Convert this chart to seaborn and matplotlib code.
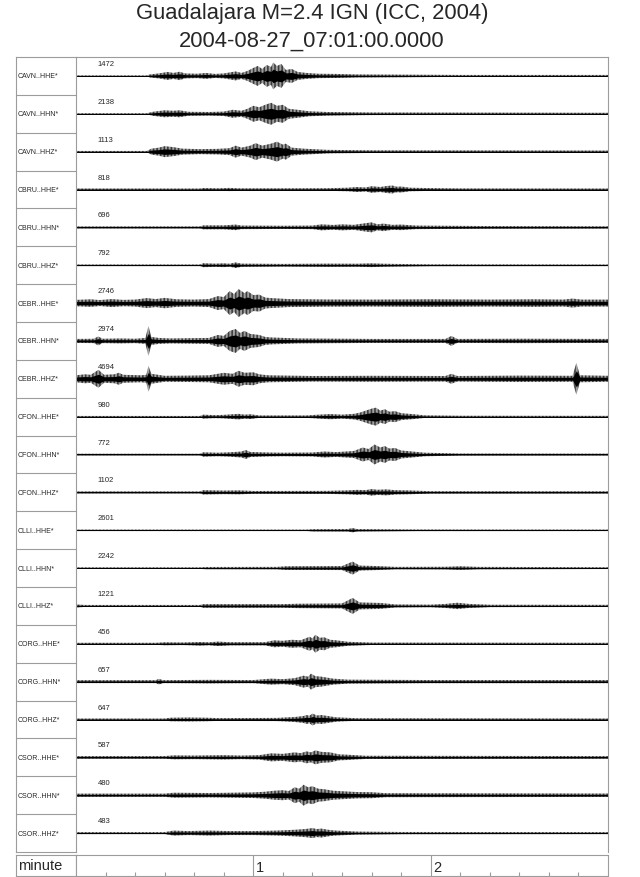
import numpy as np
import matplotlib
matplotlib.use("Agg")
import matplotlib.pyplot as plt
import seaborn as sns

# trace names and the max counts printed above each trace
labels = [
    "CAVN..HHE*", "CAVN..HHN*", "CAVN..HHZ*",
    "CBRU..HHE*", "CBRU..HHN*", "CBRU..HHZ*",
    "CEBR..HHE*", "CEBR..HHN*", "CEBR..HHZ*",
    "CFON..HHE*", "CFON..HHN*", "CFON..HHZ*",
    "CLLI..HHE*", "CLLI..HHN*", "CLLI..HHZ*",
    "CORG..HHE*", "CORG..HHN*", "CORG..HHZ*",
    "CSOR..HHE*", "CSOR..HHN*", "CSOR..HHZ*",
]
max_counts = [1472, 2138, 1113, 818, 696, 792, 2746, 2974, 4694, 980, 772,
              1102, 2601, 2242, 1221, 456, 657, 647, 587, 480, 483]

# envelope of each trace: (seconds, half amplitude in px)
env_cavn_hhe = [(0, 0.6), (24, 0.6), (25, 1.5), (28, 2.5), (31, 4), (33, 3), (35, 4.2), (37, 2.5),
                (41, 2.2), (44, 3), (47, 2), (50, 2.5), (52, 3.5), (54, 4.5), (56, 3), (58, 5),
                (60, 8), (61.5, 10), (63, 7), (64.5, 11), (66, 9), (66.7, 13.5), (68, 10),
                (69.5, 12), (71, 6), (73, 7), (75, 4), (78, 3), (82, 2.2), (88, 2), (95, 1.5),
                (110, 1.3), (130, 1), (180, 1)]
env_cavn_hhn = [(0, 0.6), (24, 0.6), (26, 2), (30, 3.5), (33, 3), (35, 3.5), (38, 2), (45, 1.8),
                (50, 2.2), (53, 4), (56, 3), (58, 5), (60, 8), (62, 6.5), (64, 9), (66, 11),
                (68, 8), (70, 9), (72, 5), (75, 4), (79, 2.5), (85, 1.8), (100, 1.3), (180, 1)]
env_cavn_hhz = [(0, 0.7), (24, 0.7), (25.5, 3), (28, 4), (30, 5.5), (33, 4.5), (36, 3), (42, 2.5),
                (48, 2.8), (52, 3.5), (54, 6), (56, 4), (59, 6), (60.8, 8.5), (63, 6), (66, 8),
                (68, 10), (70, 7), (71, 8), (73, 4), (77, 3), (85, 1.8), (100, 1.3), (180, 1.1)]
env_cbru_hhe = [(0, 1.0), (42, 1.0), (43, 1.5), (48, 1.2), (52, 1.6), (55, 1.2), (68, 1.2),
                (85, 1.3), (92, 1.8), (95, 2.5), (98, 2), (100, 3.3), (103, 2.5), (105, 3.5),
                (107, 4), (108.5, 2.8), (110, 3), (113, 1.8), (118, 1.5), (130, 1.1), (180, 1.0)]
env_cbru_hhn = [(0, 1.0), (42, 1.0), (43, 2), (50, 2), (54, 2.8), (56, 1.8), (70, 1.6), (80, 1.8),
                (83, 3), (87, 2.4), (90, 3), (94, 2.5), (97, 3.8), (100, 5), (102, 3), (104, 3.8),
                (107, 2.5), (110, 2.8), (115, 1.8), (125, 1.6), (140, 1.3), (180, 1.1)]
env_cbru_hhz = [(0, 0.8), (42, 0.8), (43, 2), (47, 1.6), (50, 1.9), (52, 1.5), (54, 2.8), (56, 1.6),
                (70, 1.3), (85, 1.6), (95, 1.5), (100, 1.9), (104, 1.5), (108, 1.3), (120, 0.9),
                (180, 0.8)]
env_cebr_hhe = [(0, 3.2), (5, 3.8), (8, 3), (12, 4), (16, 3.2), (20, 3.5), (24, 5), (27, 4),
                (30, 5.2), (34, 3.8), (40, 3.5), (45, 4), (48, 7), (50, 6), (52, 12), (53.5, 9),
                (55, 14), (57, 10), (58, 12), (60, 8), (62, 8.5), (64, 5.5), (66, 5), (72, 4),
                (85, 3.6), (100, 3.5), (120, 3.8), (140, 3.5), (155, 3.8), (165, 3.5), (168, 4.5),
                (171, 3.5), (180, 3.5)]
env_cebr_hhn = [(0, 2), (6, 2.2), (7.5, 4.5), (9, 2.2), (15, 2.5), (20, 2.2), (23.5, 3), (24.5, 15),
                (25.5, 4), (28, 3), (32, 2.5), (40, 2.8), (45, 3), (48, 6), (50, 5), (52, 10),
                (54, 12), (55.5, 8), (57, 10), (59, 7), (62, 6), (64, 4), (66, 3.5), (75, 2.5),
                (100, 2), (125, 2), (127, 5), (129, 2), (150, 2.2), (180, 2)]
env_cebr_hhz = [(0, 3.5), (3, 4.5), (5, 4), (7.6, 9), (9.5, 4), (13, 4.5), (14.5, 6), (16, 4),
                (22, 3.5), (23.8, 4), (24.5, 13), (25.5, 5), (30, 3), (38, 3.2), (45, 3.5), (48, 5),
                (50, 6), (53, 5), (55, 8), (57, 6), (60, 6.5), (62, 4.5), (65, 3.5), (80, 2.8),
                (100, 3), (125, 2.8), (127, 5), (129, 2.8), (150, 3.2), (168, 3), (169.3, 16),
                (170.5, 3.5), (180, 3)]
env_cfon_hhe = [(0, 0.7), (42, 0.7), (43, 2), (47, 1.5), (50, 1.8), (55, 2.8), (57, 2), (59, 2.4),
                (62, 1.2), (78, 1.2), (82, 2), (86, 2.6), (90, 2), (94, 2.8), (96, 4), (98, 6),
                (100, 8), (101.5, 9), (103, 6), (104.5, 7.5), (106, 5), (108, 5.5), (110, 3.5),
                (114, 2.5), (118, 1.3), (130, 0.9), (180, 0.8)]
env_cfon_hhn = [(0, 0.8), (42, 0.8), (43, 2.2), (48, 1.8), (52, 2.2), (56, 3), (57.5, 4.5), (59, 2.5),
                (65, 2), (70, 1.8), (80, 2), (84, 3), (88, 2.4), (94, 3.5), (97, 7), (99, 5.5),
                (101, 10), (103, 7), (104.5, 8.5), (106, 6), (108, 6.5), (110, 4), (112, 3.5),
                (118, 1.8), (130, 1), (180, 0.9)]
env_cfon_hhz = [(0, 1), (42, 1), (43, 2.2), (50, 1.8), (55, 2), (60, 1.4), (85, 1.5), (92, 2),
                (95, 2.5), (98, 2.2), (100, 3.3), (102, 2.6), (105, 3), (108, 2.2), (112, 2),
                (120, 1.2), (180, 1.1)]
env_clli_hhe = [(0, 0.7), (78, 0.7), (80, 1.1), (92, 1.2), (93.6, 2.2), (95, 1.2), (105, 1),
                (115, 0.8), (180, 0.7)]
env_clli_hhn = [(0, 0.8), (42, 0.8), (44, 1.1), (68, 1.2), (71, 1.8), (90, 2), (93.6, 6.5),
                (96, 2.5), (102, 2), (108, 1.2), (125, 1.3), (130, 1.8), (136, 1.2), (180, 0.9)]
env_clli_hhz = [(0, 1.5), (3, 1), (42, 1), (43, 1.8), (70, 1.8), (75, 2.2), (90, 2.5), (93.6, 8),
                (96, 3.5), (103, 3), (108, 1.5), (120, 1.3), (125, 2), (129, 3.2), (133, 2),
                (140, 1.2), (180, 1.1)]
env_corg_hhe = [(0, 1), (27, 1), (30, 1.5), (36, 1.3), (42, 1.8), (45, 1.5), (48, 2.2), (52, 1.6),
                (64, 1.6), (67, 3.5), (70, 3), (73, 4), (76, 3.5), (79, 7), (80, 5.5), (81, 9),
                (82.5, 6), (84, 6.5), (86, 4), (88, 3.5), (92, 2), (100, 1.2), (180, 1)]
env_corg_hhn = [(0, 1.5), (27, 1.5), (28, 2.8), (29.5, 1.5), (45, 1.8), (60, 1.6), (66, 3),
                (70, 2.5), (74, 3.5), (77, 6), (78.5, 5), (79.5, 8), (81, 5.5), (83, 5), (87, 3),
                (92, 2), (120, 1.6), (180, 1.6)]
env_corg_hhz = [(0, 1), (30, 1), (32, 1.8), (38, 2), (44, 1.8), (48, 1.4), (68, 1.6), (74, 2.5),
                (77, 3.5), (78, 4.5), (79, 3.8), (80, 6), (81.5, 4), (83, 4.5), (88, 2.2),
                (95, 1.3), (180, 1)]
env_csor_hhe = [(0, 1.3), (30, 1.3), (33, 2), (40, 1.8), (50, 2.2), (56, 1.8), (62, 2.2), (66, 4),
                (70, 3.5), (74, 5), (76, 4.2), (78, 6), (79.5, 5), (81, 7), (83, 5.5), (86, 5),
                (89, 3), (91, 2.8), (98, 1.6), (180, 1.3)]
env_csor_hhn = [(0, 1.6), (30, 1.6), (33, 2.5), (45, 2.2), (60, 2.8), (64, 3.5), (67, 4.5), (70, 5),
                (72, 4.2), (74, 8), (75.5, 6.5), (77, 10.5), (78.5, 8), (80, 9), (82, 6.5), (84, 6),
                (87, 4.5), (90, 4), (95, 3.2), (100, 3), (105, 2), (180, 1.7)]
env_csor_hhz = [(0, 1), (30, 1), (33, 2.5), (38, 2), (45, 2.5), (52, 2), (60, 2), (68, 2.5),
                (72, 3), (75, 3.5), (78, 4.2), (80, 5), (81.5, 4), (83, 4.5), (86, 3), (88, 2.5),
                (95, 1.5), (110, 1.1), (180, 1)]

envelopes = [
    env_cavn_hhe, env_cavn_hhn, env_cavn_hhz,
    env_cbru_hhe, env_cbru_hhn, env_cbru_hhz,
    env_cebr_hhe, env_cebr_hhn, env_cebr_hhz,
    env_cfon_hhe, env_cfon_hhn, env_cfon_hhz,
    env_clli_hhe, env_clli_hhn, env_clli_hhz,
    env_corg_hhe, env_corg_hhn, env_corg_hhz,
    env_csor_hhe, env_csor_hhn, env_csor_hhz,
]

minute_ticks = [60, 120]
minute_labels = ["1", "2"]
minor_ticks = [10, 20, 30, 40, 50, 70, 80, 90, 100, 110, 130, 140, 150, 160, 170]

sns.set_theme(style="white")
plt.rcParams["font.family"] = ["Liberation Sans", "DejaVu Sans"]
plt.rcParams["hatch.linewidth"] = 0.55
plt.rcParams["hatch.color"] = "black"

W, H = 640, 878
FRAME = "#9c9c9c"
n = len(labels)
row_px = (853 - 58) / n


def box(x0, y0, x1, y1):
    return [x0 / W, 1 - y1 / H, (x1 - x0) / W, (y1 - y0) / H]


def frame(a, sides=("top", "bottom", "left", "right")):
    for s, sp in a.spines.items():
        sp.set_visible(s in sides)
        sp.set_color(FRAME)
        sp.set_linewidth(0.8)
    a.set_xticks([])
    a.set_yticks([])


fig = plt.figure(figsize=(6.4, 8.78), dpi=100)

fig.text(312 / W, 1 - 14 / H, "Guadalajara M=2.4 IGN (ICC, 2004)",
         ha="center", va="center", fontsize=15.8)
fig.text(312 / W, 1 - 41 / H, "2004-08-27_07:01:00.0000",
         ha="center", va="center", fontsize=15.8)

# station label column
ax_lab = fig.add_axes(box(16, 58, 76, 853))
frame(ax_lab, ("top", "left", "bottom"))
ax_lab.set_xlim(0, 60)
ax_lab.set_ylim(n, 0)
ax_lab.hlines(np.arange(1, n), 0, 60, color=FRAME, lw=0.8)
for i, name in enumerate(labels):
    ax_lab.text(1.5, i + 0.5, name, fontsize=5, va="center", ha="left")

# traces
ax = fig.add_axes(box(76, 58, 608, 853))
for i, env in enumerate(envelopes):
    t = np.array([p[0] for p in env], dtype=float)
    amp = np.array([p[1] for p in env]) / row_px
    yc = i + 0.5
    # spiky fringe as vertical hatching, dense core in solid black
    ax.fill_between(t, yc - amp, yc + amp, facecolor="none", edgecolor="black",
                    hatch="|" * 12, lw=0)
    ax.fill_between(t, yc - 0.5 * amp, yc + 0.5 * amp, color="black", lw=0)
    sns.lineplot(x=t, y=np.full_like(t, yc), ax=ax, color="black", lw=0.7, estimator=None)
    ax.text(7.4, i + 0.17, str(max_counts[i]), fontsize=5.5, va="center", ha="left")
ax.set_xlim(0, 180)
ax.set_ylim(n, 0)
ax.set_xlabel("")
ax.set_ylabel("")
frame(ax, ("top", "left", "right"))

# time axis row
ax_m = fig.add_axes(box(16, 856, 76, 877))
frame(ax_m)
ax_m.text(0.03, 0.5, "minute", transform=ax_m.transAxes, fontsize=10.5,
          va="center", ha="left")

ax_t = fig.add_axes(box(76, 856, 608, 877))
frame(ax_t)
ax_t.set_xlim(0, 180)
ax_t.set_ylim(0, 1)
ax_t.vlines(minor_ticks, 0, 0.2, color=FRAME, lw=0.8)
ax_t.vlines(minute_ticks, 0, 1, color=FRAME, lw=0.8)
for m, lab in zip(minute_ticks, minute_labels):
    ax_t.text(m + 0.8, 0.45, lab, fontsize=10.5, va="center", ha="left")

fig.savefig("out.png", dpi=100)
